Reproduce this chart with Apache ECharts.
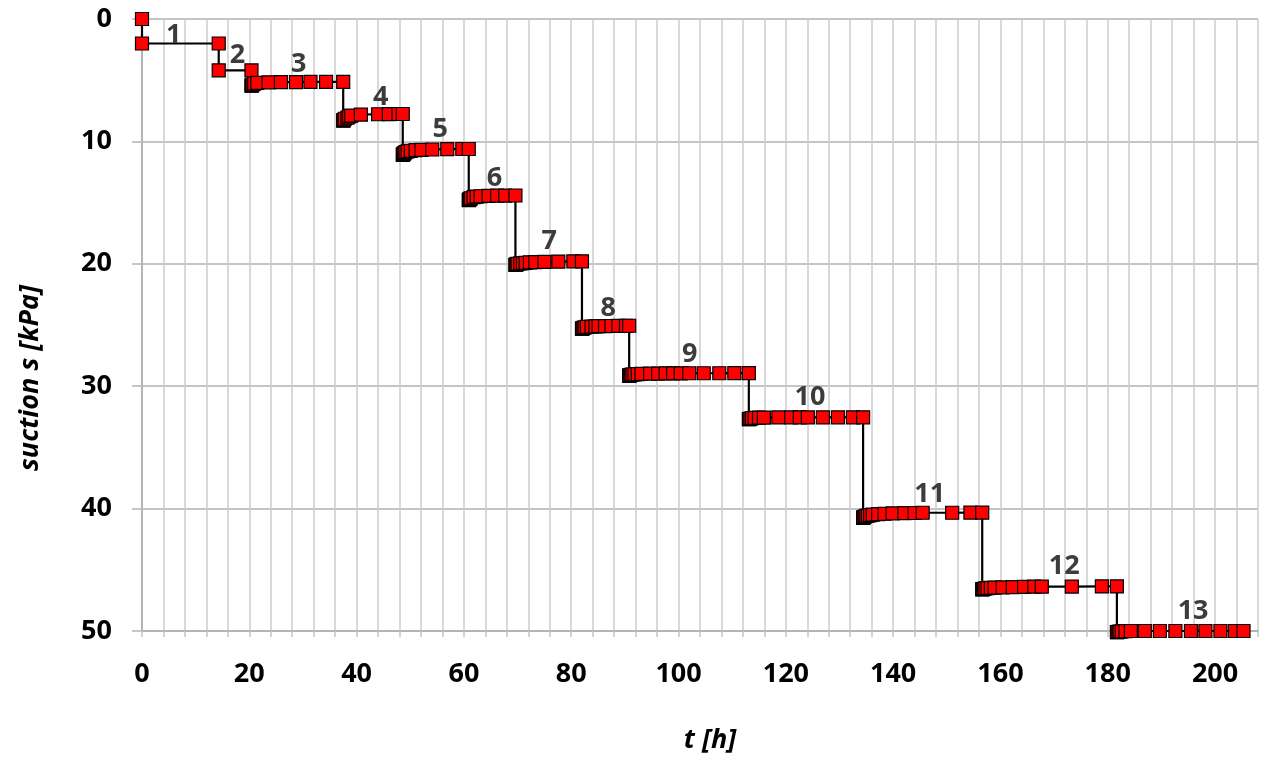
<!DOCTYPE html>
<html>
<head>
<meta charset="utf-8">
<script src="https://cdn.jsdelivr.net/npm/echarts@6/dist/echarts.min.js"></script>
<style>
html,body{margin:0;padding:0;background:#fff;}
#chart{width:1261px;height:761px;}
</style>
</head>
<body>
<div id="chart"></div>
<script>
// time [h]
const timeH = [
  0, 0, 14.3, 14.3, 20.4,
  20.4, 20.45, 20.5, 20.6, 20.9, 21.5, 23.6, 25.9, 28.7, 31.4, 34.3, 37.5,
  37.5, 37.55, 37.6, 37.8, 38.3, 38.6, 39.0, 40.8, 44.0, 46.0, 47.8, 48.6,
  48.6, 48.65, 48.7, 48.8, 48.9, 49.1, 49.5, 50.1, 51.0, 52.1, 54.1, 56.9, 59.7, 60.9,
  60.9, 60.95, 61.0, 61.1, 61.3, 61.8, 62.4, 63.1, 64.6, 66.2, 67.7, 69.6,
  69.6, 69.65, 69.7, 69.8, 70.0, 70.5, 71.0, 71.5, 72.3, 73.3, 75.0, 77.6, 80.4, 82.0,
  82.0, 82.05, 82.1, 82.3, 82.5, 82.9, 83.8, 84.5, 85.1, 86.3, 87.5, 88.8, 90.2, 90.8,
  90.8, 90.85, 90.9, 91.1, 91.4, 91.8, 92.4, 93.1, 94.7, 96.2, 97.6, 99.0, 100.4, 102.0, 104.7, 107.6, 110.4, 113.1,
  113.1, 113.15, 113.2, 113.4, 113.7, 114.2, 115.0, 115.9, 118.6, 121.0, 122.6, 124.1, 126.9, 129.7, 132.5, 134.4,
  134.4, 134.45, 134.5, 134.7, 135.0, 135.3, 135.7, 136.2, 137.2, 138.4, 139.9, 142.1, 144.0, 145.5, 151.0, 154.4, 156.6,
  156.6, 156.65, 156.7, 156.9, 157.2, 157.6, 158.2, 158.9, 160.4, 162.3, 164.4, 166.3, 167.7, 173.3, 178.9, 181.7,
  181.7, 181.75, 181.8, 182.0, 182.2, 182.6, 183.3, 184.3, 186.9, 189.7, 192.6, 195.5, 198.2, 201.0, 203.7, 205.3
];
// suction s [kPa]
const suctionKPa = [
  0, 2.0, 2.0, 4.2, 4.2,
  5.45, 5.42, 5.4, 5.35, 5.28, 5.22, 5.17, 5.15, 5.15, 5.14, 5.13, 5.13,
  8.3, 8.28, 8.25, 8.15, 8.05, 7.95, 7.9, 7.82, 7.78, 7.77, 7.76, 7.76,
  11.1, 11.08, 11.05, 11.0, 10.95, 10.88, 10.82, 10.77, 10.72, 10.69, 10.66, 10.63, 10.62, 10.62,
  14.8, 14.78, 14.75, 14.7, 14.65, 14.56, 14.52, 14.48, 14.45, 14.43, 14.43, 14.42,
  20.1, 20.09, 20.07, 20.04, 20.0, 19.97, 19.94, 19.92, 19.89, 19.86, 19.84, 19.82, 19.8, 19.8,
  25.3, 25.29, 25.27, 25.23, 25.2, 25.16, 25.13, 25.12, 25.1, 25.09, 25.08, 25.07, 25.06, 25.06,
  29.15, 29.13, 29.1, 29.07, 29.05, 29.03, 29.02, 29.0, 28.98, 28.97, 28.96, 28.95, 28.95, 28.94, 28.94, 28.94, 28.93, 28.93,
  32.7, 32.69, 32.68, 32.65, 32.62, 32.58, 32.57, 32.56, 32.55, 32.55, 32.55, 32.55, 32.55, 32.54, 32.54, 32.54,
  40.75, 40.73, 40.7, 40.65, 40.6, 40.58, 40.54, 40.5, 40.45, 40.42, 40.39, 40.37, 40.36, 40.34, 40.34, 40.33, 40.33,
  46.6, 46.59, 46.58, 46.55, 46.52, 46.5, 46.48, 46.46, 46.44, 46.42, 46.4, 46.38, 46.37, 46.37, 46.36, 46.36,
  50.1, 50.09, 50.08, 50.06, 50.05, 50.03, 50.02, 50.0, 50.0, 50.0, 50.0, 50.0, 50.0, 50.0, 50.0, 50.0
];
// step labels and their anchor positions (data units)
const stepNames = ['1','2','3','4','5','6','7','8','9','10','11','12','13'];
const stepLabelT = [5.9, 17.8, 29.2, 44.5, 55.6, 65.7, 75.9, 86.9, 102.1, 124.5, 146.8, 171.9, 195.9];
const stepLabelS = [1.3, 3.0, 3.7, 6.4, 9.0, 13.0, 18.2, 23.6, 27.4, 30.9, 38.8, 44.7, 48.4];
const xTickLabels = [0, 20, 40, 60, 80, 100, 120, 140, 160, 180, 200];
const xTitle = 't [h]';
const yTitle = 'suction s [kPa]';

const FONT = '"Open Sans", "Noto Sans", sans-serif';
const chart = echarts.init(document.getElementById('chart'), null, {renderer: 'canvas'});

const lineData = timeH.map((t, i) => [t, suctionKPa[i]]);
const labelData = stepNames.map((n, i) => ({name: n, value: [stepLabelT[i], stepLabelS[i]]}));

chart.setOption({
  animation: false,
  backgroundColor: '#ffffff',
  grid: {left: 142, right: 0, top: 19, bottom: 130, containLabel: false},
  xAxis: {
    type: 'value', min: 0, max: 208, interval: 4,
    axisLine: {show: true, onZero: false, lineStyle: {color: '#b4b4b4', width: 2}},
    axisTick: {show: true, length: 6, lineStyle: {color: '#c4c4c4', width: 1.5}},
    splitLine: {show: true, lineStyle: {color: '#cccccc', width: 1.5}},
    axisLabel: {
      margin: 30, color: '#000', fontFamily: FONT, fontWeight: 'bold', fontSize: 27,
      formatter: v => (xTickLabels.indexOf(v) >= 0 ? String(v) : '')
    }
  },
  yAxis: {
    type: 'value', inverse: true, min: 0, max: 50, interval: 10,
    axisLine: {show: true, lineStyle: {color: '#b4b4b4', width: 2}},
    axisTick: {show: true, length: 10, lineStyle: {color: '#b4b4b4', width: 1.5}},
    splitLine: {show: true, lineStyle: {color: '#c4c4c4', width: 2}},
    axisLabel: {margin: 30, color: '#000', fontFamily: FONT, fontWeight: 'bold', fontSize: 27}
  },
  series: [
    {
      type: 'line',
      data: lineData,
      clip: false,
      symbol: 'rect',
      symbolSize: 13,
      showAllSymbol: true,
      lineStyle: {color: '#000', width: 2.2},
      itemStyle: {color: '#ff0000', borderColor: '#000', borderWidth: 1.2},
      emphasis: {disabled: true},
      z: 3
    },
    {
      type: 'scatter',
      data: labelData,
      symbolSize: 2,
      itemStyle: {color: 'rgba(255,255,255,0)'},
      label: {
        show: true, position: 'inside', formatter: p => p.name,
        color: '#3c3c3c', opacity: 1, fontFamily: FONT, fontWeight: 'bold', fontSize: 27
      },
      emphasis: {disabled: true},
      z: 4
    }
  ],
  graphic: [
    {
      type: 'text', x: 30, y: 378, rotation: Math.PI / 2,
      style: {text: yTitle, font: 'italic bold 27px ' + FONT, fill: '#000',
        textAlign: 'center', textVerticalAlign: 'middle', align: 'center', verticalAlign: 'middle'}
    },
    {
      type: 'text', x: 710, y: 740,
      style: {text: xTitle, font: 'italic bold 27px ' + FONT, fill: '#000',
        textAlign: 'center', textVerticalAlign: 'middle', align: 'center', verticalAlign: 'middle'}
    }
  ]
});
</script>
</body>
</html>
